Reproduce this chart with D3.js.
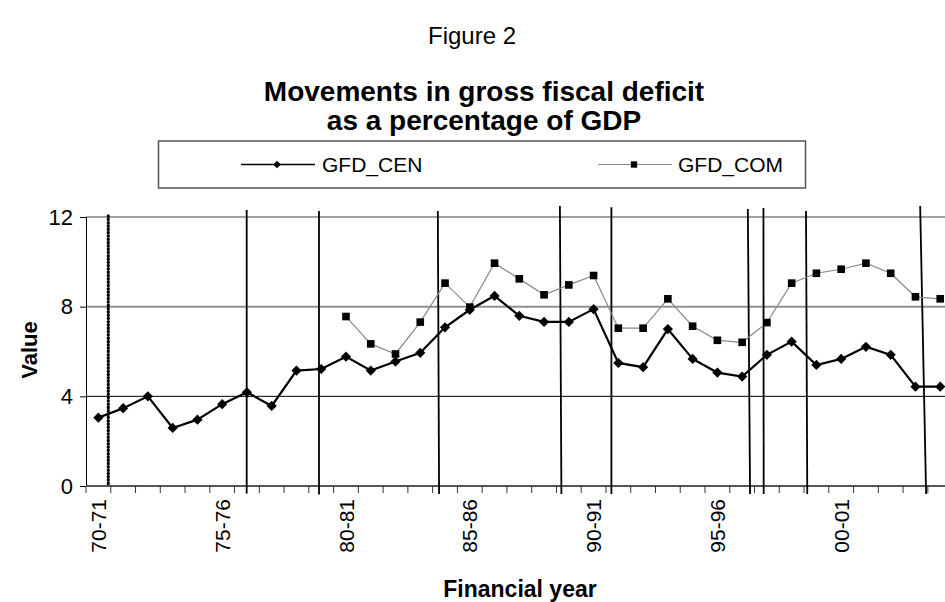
<!DOCTYPE html>
<html>
<head>
<meta charset="utf-8">
<script src="https://cdn.jsdelivr.net/npm/d3@7/dist/d3.min.js"></script>
<style>
  body { margin: 0; background: #fff; }
  svg { display: block; font-family: "Liberation Sans", Arial, Helvetica, sans-serif; }
</style>
</head>
<body>
<svg id="chart" width="945" height="602"></svg>
<script>
// Financial years on the category axis
const years = [
  "70-71","71-72","72-73","73-74","74-75","75-76","76-77","77-78","78-79","79-80",
  "80-81","81-82","82-83","83-84","84-85","85-86","86-87","87-88","88-89","89-90",
  "90-91","91-92","92-93","93-94","94-95","95-96","96-97","97-98","98-99","99-00",
  "00-01","01-02","02-03","03-04","04-05"
];

// Gross fiscal deficit of the centre, % of GDP
const gfdCen = [
  3.05, 3.47, 4.00, 2.59, 2.96, 3.65, 4.18, 3.57, 5.15, 5.22,
  5.77, 5.15, 5.55, 5.94, 7.08, 7.86, 8.48, 7.59, 7.32, 7.32,
  7.89, 5.49, 5.30, 7.00, 5.67, 5.06, 4.88, 5.85, 6.44, 5.40,
  5.67, 6.21, 5.85, 4.43, 4.43
];

// Combined (centre + states) gross fiscal deficit, % of GDP; available from 80-81
const gfdCom = [
  null, null, null, null, null, null, null, null, null, null,
  7.56, 6.34, 5.89, 7.31, 9.05, 7.98, 9.94, 9.24, 8.53, 8.97,
  9.39, 7.04, 7.04, 8.35, 7.13, 6.50, 6.41, 7.29, 9.05, 9.49,
  9.67, 9.94, 9.49, 8.44, 8.35
];

const yTicks = [0, 4, 8, 12];
const labelledYears = ["70-71","75-76","80-81","85-86","90-91","95-96","00-01"];

// Vertical rules drawn across the plot: position in year steps from 70-71
// at their top and bottom ends, with the value they start and stop at.
const ruleIdxTop    = [0.40, 5.99, 8.91, 13.71, 18.64, 20.72, 26.23, 26.86, 28.58, 33.19];
const ruleIdxBottom = [0.40, 5.99, 8.91, 13.76, 18.70, 20.72, 26.32, 26.87, 28.63, 33.43];
const ruleValTop    = [12.05, 12.31, 12.27, 12.27, 12.49, 12.43, 12.36, 12.40, 12.27, 12.49];
const ruleValBottom = [0.00, -0.33, -0.38, -0.36, -0.36, -0.36, -0.36, -0.36, -0.36, -0.36];
const ruleDotted    = [true, false, false, false, false, false, false, false, false, false];

const svg = d3.select("#chart");

const left = 86, step = 24.76;
const x = d3.scaleBand().domain(years).range([left, left + step * years.length]).padding(0);
const y = d3.scaleLinear().domain([0, 12]).range([486, 217]);
const cx = d => x(d) + x.bandwidth() / 2;
const idxX = i => x(years[0]) + x.bandwidth() / 2 + i * x.step();
const plotRight = 945;

// Titles
svg.append("text").attr("x", 472).attr("y", 44).attr("text-anchor", "middle")
  .attr("font-size", 24).text("Figure 2");
svg.append("text").attr("x", 484).attr("y", 101).attr("text-anchor", "middle")
  .attr("font-size", 28).attr("font-weight", "bold").text("Movements in gross fiscal deficit");
svg.append("text").attr("x", 484).attr("y", 130).attr("text-anchor", "middle")
  .attr("font-size", 28).attr("font-weight", "bold").text("as a percentage of GDP");

// Horizontal gridlines
const gridColor = { 12: "#a0a0a0", 8: "#909090", 4: "#000" };
const gridWidth = { 12: 2, 8: 2, 4: 1 };
svg.append("g").selectAll("line").data(yTicks.filter(t => t > 0)).join("line")
  .attr("x1", left).attr("x2", plotRight)
  .attr("y1", d => y(d)).attr("y2", d => y(d))
  .attr("stroke", d => gridColor[d]).attr("stroke-width", d => gridWidth[d]);

// Y axis
const yAxis = svg.append("g").attr("transform", `translate(${left},0)`)
  .call(d3.axisLeft(y).tickValues(yTicks).tickSize(6).tickPadding(7).tickFormat(d3.format("d")));
yAxis.select(".domain").attr("stroke", "#000").attr("stroke-width", 1);
yAxis.selectAll(".tick line").attr("stroke", "#000");
yAxis.selectAll(".tick text").attr("font-size", 22).attr("font-family", "Liberation Sans, Arial, sans-serif").attr("fill", "#000");

// X axis: ticks at year boundaries, labels every fifth year
const xAxisG = svg.append("g").attr("transform", `translate(0,${y(0)})`);
xAxisG.append("line").attr("x1", left).attr("x2", plotRight).attr("y1", 0).attr("y2", 0)
  .attr("stroke", "#555").attr("stroke-width", 2);
xAxisG.selectAll("line.tk").data(years).join("line").attr("class", "tk")
  .attr("x1", d => x(d)).attr("x2", d => x(d)).attr("y1", 0).attr("y2", 7)
  .attr("stroke", "#333").attr("stroke-width", 1);
xAxisG.selectAll("text").data(labelledYears).join("text")
  .attr("transform", d => `translate(${cx(d)},13) rotate(-90)`)
  .attr("text-anchor", "end").attr("dy", "0.36em")
  .attr("font-size", 21).text(d => d);

// Vertical rules
const rules = ruleIdxTop.map((t, i) => ({ t, b: ruleIdxBottom[i], vt: ruleValTop[i], vb: ruleValBottom[i], dotted: ruleDotted[i] }));
svg.append("g").selectAll("line").data(rules).join("line")
  .attr("x1", d => idxX(d.t)).attr("x2", d => idxX(d.b))
  .attr("y1", d => y(d.vt)).attr("y2", d => y(d.vb))
  .attr("stroke", "#000")
  .attr("stroke-width", d => d.dotted ? 3.2 : 1.8)
  .attr("stroke-linecap", d => d.dotted ? "round" : "butt")
  .attr("stroke-dasharray", d => d.dotted ? "0.4 2.9" : null);

// Series
const line = d3.line().defined(d => d.v != null).x(d => cx(d.year)).y(d => y(d.v));
const cen = years.map((year, i) => ({ year, v: gfdCen[i] }));
const com = years.map((year, i) => ({ year, v: gfdCom[i] }));

svg.append("path").datum(com).attr("d", line)
  .attr("fill", "none").attr("stroke", "#8a8a8a").attr("stroke-width", 1.2);
svg.append("path").datum(cen).attr("d", line)
  .attr("fill", "none").attr("stroke", "#000").attr("stroke-width", 2.2);

const diamond = d3.symbol().type(d3.symbolSquare).size(52);
const square = d3.symbol().type(d3.symbolSquare).size(58);

svg.append("g").selectAll("path").data(com.filter(d => d.v != null)).join("path")
  .attr("d", square).attr("fill", "#000")
  .attr("transform", d => `translate(${cx(d.year)},${y(d.v)})`);
svg.append("g").selectAll("path").data(cen).join("path")
  .attr("d", diamond).attr("fill", "#000")
  .attr("transform", d => `translate(${cx(d.year)},${y(d.v)}) rotate(45)`);

// Axis titles
svg.append("text").attr("transform", "translate(37,350) rotate(-90)")
  .attr("text-anchor", "middle").attr("font-size", 22).attr("font-weight", "bold").text("Value");
svg.append("text").attr("x", 520).attr("y", 597).attr("text-anchor", "middle")
  .attr("font-size", 23).attr("font-weight", "bold").text("Financial year");

// Legend
const lg = svg.append("g");
lg.append("rect").attr("x", 158.5).attr("y", 141).attr("width", 647).attr("height", 47)
  .attr("fill", "#fff").attr("stroke", "#555").attr("stroke-width", 1.5);
lg.append("line").attr("x1", 241).attr("x2", 315).attr("y1", 164.5).attr("y2", 164.5)
  .attr("stroke", "#000").attr("stroke-width", 1.6);
lg.append("path").attr("d", d3.symbol().type(d3.symbolSquare).size(30))
  .attr("transform", "translate(277,164.5) rotate(45)").attr("fill", "#000");
lg.append("text").attr("x", 322).attr("y", 172).attr("font-size", 21).text("GFD_CEN");
lg.append("line").attr("x1", 598).attr("x2", 672).attr("y1", 164.5).attr("y2", 164.5)
  .attr("stroke", "#8a8a8a").attr("stroke-width", 1.1);
lg.append("path").attr("d", d3.symbol().type(d3.symbolSquare).size(40))
  .attr("transform", "translate(634,164.5)").attr("fill", "#000");
lg.append("text").attr("x", 678).attr("y", 172).attr("font-size", 21).text("GFD_COM");
</script>
</body>
</html>
